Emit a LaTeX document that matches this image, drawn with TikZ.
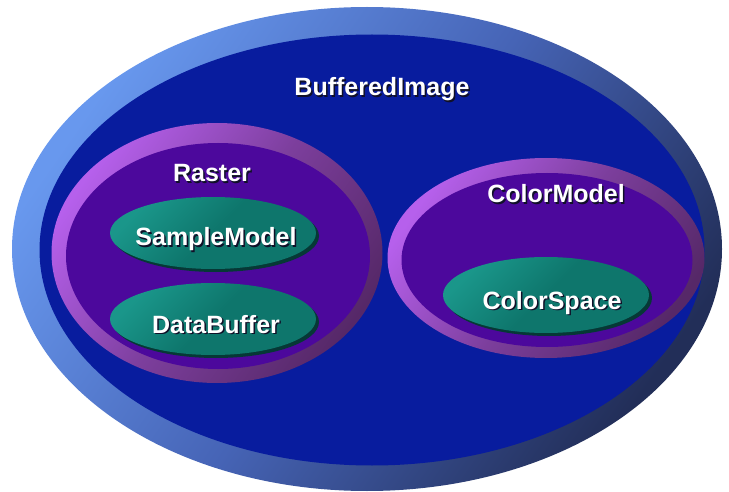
\documentclass[tikz,border=0pt]{standalone}
\usepackage{fontspec}
\setmainfont{Liberation Sans}
\usepackage{xcolor}
\usetikzlibrary{shapes.geometric,shadows}

\definecolor{ringlight}{RGB}{104,152,238}
\definecolor{ringmid}{RGB}{70,100,182}
\definecolor{ringdark}{RGB}{34,46,88}
\definecolor{imageblue}{RGB}{8,28,158}
\definecolor{purplelight}{RGB}{182,96,236}
\definecolor{purpledark}{RGB}{86,40,104}
\definecolor{purplefill}{RGB}{76,8,156}
\definecolor{teallight}{RGB}{26,150,138}
\definecolor{tealmain}{RGB}{14,118,108}
\definecolor{tealedge}{RGB}{6,56,54}
\definecolor{textshadow}{RGB}{16,16,40}

\newcommand{\shadowed}[1]{\leavevmode\rlap{\kern1.5pt\raisebox{-1.5pt}{\color{textshadow}#1}}#1}

\tikzset{
    outer-ring/.style = {ellipse, inner sep=0pt, top color=ringlight, bottom color=ringdark, middle color=ringmid, shading angle=55},
    outer-fill/.style = {ellipse, inner sep=0pt, fill=imageblue},
    inner-ring/.style = {ellipse, inner sep=0pt, top color=purplelight, bottom color=purpledark, middle color=purpledark!60!purplelight, shading angle=55},
    inner-fill/.style = {ellipse, inner sep=0pt, fill=purplefill},
    class-oval/.style = {ellipse, inner sep=0pt, minimum width=206pt, minimum height=72pt, top color=teallight, bottom color=tealmain, middle color=tealmain, shading angle=45, drop shadow={shadow xshift=3pt, shadow yshift=-3pt, fill=tealedge, opacity=1}},
    title-text/.style = {text=white, font=\fontsize{25}{25}\selectfont\bfseries, anchor=base, inner sep=0pt},
}

\begin{document}
\begin{tikzpicture}[x=1pt, y=-1pt]
\useasboundingbox (0,0) rectangle (729,492);

% BufferedImage
\node[outer-ring, minimum width=710pt, minimum height=484pt] (bufimg) at (367,249) {};
\node[outer-fill, minimum width=665pt, minimum height=431pt] (bufimg-in) at (372,250) {};
\node[title-text] (bufimg-title) at (382,96) {\shadowed{BufferedImage}};

% Raster
\node[inner-ring, minimum width=331pt, minimum height=260pt] (raster) at (217,253) {};
\node[inner-fill, minimum width=304pt, minimum height=226pt] (raster-in) at (218,256) {};
\node[title-text] (raster-title) at (212,182) {\shadowed{Raster}};
\node[class-oval] (samplemodel) at (213,233) {};
\node[title-text] (samplemodel-title) at (216,246) {\shadowed{SampleModel}};
\node[class-oval] (databuffer) at (213,319) {};
\node[title-text] (databuffer-title) at (216,333) {\shadowed{DataBuffer}};

% ColorModel
\node[inner-ring, minimum width=317pt, minimum height=200pt] (colmodel) at (546,258) {};
\node[inner-fill, minimum width=291pt, minimum height=174pt] (colmodel-in) at (547,260) {};
\node[title-text] (colmodel-title) at (556,203) {\shadowed{ColorModel}};
\node[class-oval, minimum height=76pt] (colorspace) at (546,295) {};
\node[title-text] (colorspace-title) at (552,309) {\shadowed{ColorSpace}};
\end{tikzpicture}
\end{document}
